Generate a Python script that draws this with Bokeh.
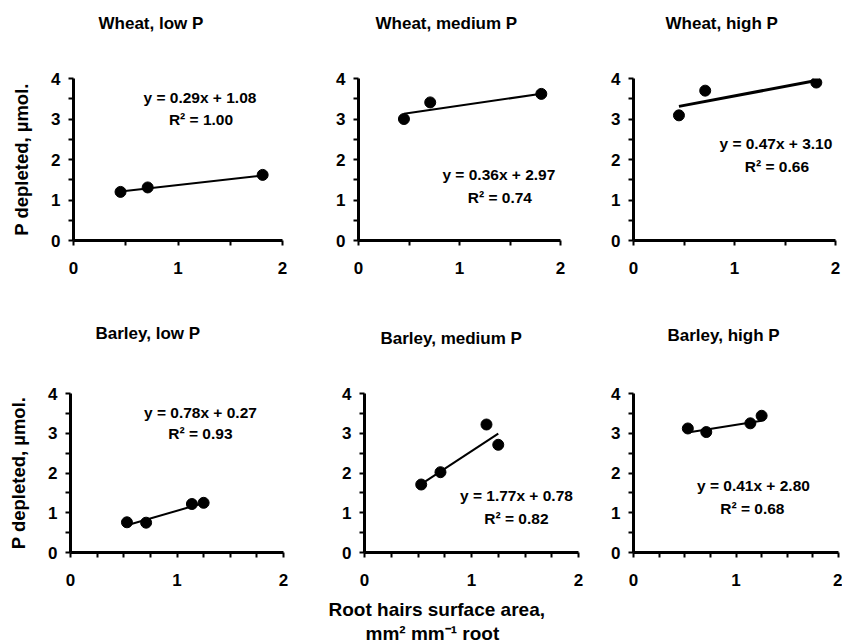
from bokeh.plotting import figure
from bokeh.layouts import row, column
from bokeh.models import FixedTicker, Label, Title
from bokeh.embed import file_html
from bokeh.resources import INLINE

# ---------------- data ----------------
panel_titles = ["Wheat, low P", "Wheat, medium P", "Wheat, high P",
                "Barley, low P", "Barley, medium P", "Barley, high P"]
wheat_x = [0.45, 0.71, 1.81]
wheat_low_y = [1.20, 1.31, 1.62]
wheat_medium_y = [3.00, 3.41, 3.62]
wheat_high_y = [3.09, 3.70, 3.90]
barley_x = [0.53, 0.71, 1.14, 1.25]
barley_low_y = [0.76, 0.75, 1.22, 1.25]
barley_medium_y = [1.71, 2.02, 3.22, 2.71]
barley_high_y = [3.12, 3.03, 3.25, 3.44]
slopes = [0.29, 0.36, 0.47, 0.78, 1.77, 0.41]
intercepts = [1.08, 2.97, 3.10, 0.27, 0.78, 2.80]
r_squared = [1.00, 0.74, 0.66, 0.93, 0.82, 0.68]
x_major_ticks = [0, 1, 2]
y_major_ticks = [0, 1, 2, 3, 4]
y_label = "P depleted, µmol."
x_label_lines = ["Root hairs surface area,", "mm² mm⁻¹ root"]

xs = [wheat_x, wheat_x, wheat_x, barley_x, barley_x, barley_x]
ys = [wheat_low_y, wheat_medium_y, wheat_high_y,
      barley_low_y, barley_medium_y, barley_high_y]

# ---------------- layout (pixels) ----------------
# fig width, fig height, left border, top border, frame w, frame h
geom = [
    (300, 310, 73, 78, 209, 162),
    (280, 310, 58, 78, 202, 162),
    (262, 310, 53, 78, 202, 162),
    (300, 334, 70, 83, 213, 159),
    (285, 334, 64, 83, 214, 159),
    (257, 334, 48, 83, 205, 159),
]
# title: left edge offset from frame left, vertical centre from figure top
title_left = [25, 17, 32, 25, 16, 34]
title_centre = [23, 23, 23, 23, 28, 25]
# equation / R2 text positions (data coords)
eq_pos = [
    ((1.21, 3.52), (1.22, 2.98)),
    ((1.39, 1.62), (1.40, 1.07)),
    ((1.41, 2.39), (1.42, 1.82)),
    ((1.22, 3.53), (1.22, 3.00)),
    ((1.42, 1.44), (1.42, 0.85)),
    ((1.17, 1.68), (1.16, 1.10)),
]
# x-axis label lines: left edge offset from frame left (px)
xlabel_left = [-36, 1]
minor_x = [[0.5, 1.5]] * 3 + [[0.25, 0.5, 0.75, 1.25, 1.5, 1.75]] * 3
line_widths = [2, 2, 3, 2, 2, 2]

FONT = "Liberation Sans"


def spacer(gap):
    # blank (white) title used only to reserve space between frame and a text
    return Title(text=".", text_color="white", text_font_size="2px",
                 standoff=gap)


figs = []
for i in range(6):
    W, H, L, T, FW, FH = geom[i]
    R = W - L - FW
    B = H - T - FH
    p = figure(width=W, height=H, x_range=(0, 2), y_range=(0, 4),
               min_border_left=L, min_border_right=R,
               min_border_top=T, min_border_bottom=B,
               output_backend="svg", toolbar_location=None,
               background_fill_color="white", border_fill_color="white")
    p.outline_line_color = None
    p.grid.visible = False

    for ax in (p.xaxis[0], p.yaxis[0]):
        ax.axis_line_width = 3
        ax.axis_line_color = "black"
        ax.major_tick_line_width = 2
        ax.minor_tick_line_width = 2
        ax.major_tick_in = 0
        ax.minor_tick_in = 0
        ax.major_tick_out = 5
        ax.minor_tick_out = 5
        ax.major_label_text_font = FONT
        ax.major_label_text_font_style = "bold"
        ax.major_label_text_font_size = "17px"
        ax.major_label_text_color = "black"
    p.xaxis[0].ticker = FixedTicker(ticks=x_major_ticks, minor_ticks=minor_x[i])
    p.yaxis[0].ticker = FixedTicker(ticks=y_major_ticks,
                                    minor_ticks=[0.5, 1.5, 2.5, 3.5])
    p.xaxis[0].major_label_standoff = 16
    p.yaxis[0].major_label_standoff = 8

    if i in (0, 3):
        p.yaxis[0].axis_label = y_label
        p.yaxis[0].axis_label_text_font = FONT
        p.yaxis[0].axis_label_text_font_style = "bold"
        p.yaxis[0].axis_label_text_font_size = "18.5px"
        p.yaxis[0].axis_label_text_color = "black"
        p.yaxis[0].axis_label_standoff = 16

    # blank spacer next to the frame, then the panel title further out
    p.add_layout(spacer(T - title_centre[i] - 12), "above")
    p.add_layout(Title(text=panel_titles[i], align="left",
                       offset=title_left[i], standoff=0,
                       text_font=FONT, text_font_style="bold",
                       text_font_size="17px", text_color="black"), "above")

    if i == 4:
        p.add_layout(spacer(4), "below")
        for k, (off, txt) in enumerate(zip(xlabel_left, x_label_lines)):
            p.add_layout(Title(text=txt, align="left", offset=off,
                               standoff=2 if k == 0 else 0,
                               text_font=FONT, text_font_style="bold",
                               text_font_size="19px", text_color="black"),
                         "below")

    x = xs[i]
    y = ys[i]
    xl = [min(x), max(x)]
    yl = [slopes[i] * v + intercepts[i] for v in xl]
    p.line(xl, yl, line_color="black", line_width=line_widths[i])
    p.scatter(x, y, size=11, fill_color="black", line_color="black")

    for (px_, py_), txt in zip(eq_pos[i],
                               (f"y = {slopes[i]:.2f}x + {intercepts[i]:.2f}",
                                f"R² = {r_squared[i]:.2f}")):
        p.add_layout(Label(x=px_, y=py_, text=txt, text_font=FONT,
                           text_font_style="bold", text_font_size="15.5px",
                           text_align="center", text_baseline="middle",
                           text_color="black"))
    figs.append(p)

layout = column(row(figs[0], figs[1], figs[2], spacing=0),
                row(figs[3], figs[4], figs[5], spacing=0), spacing=0)

open("out.html", "w").write(file_html(layout, INLINE))
